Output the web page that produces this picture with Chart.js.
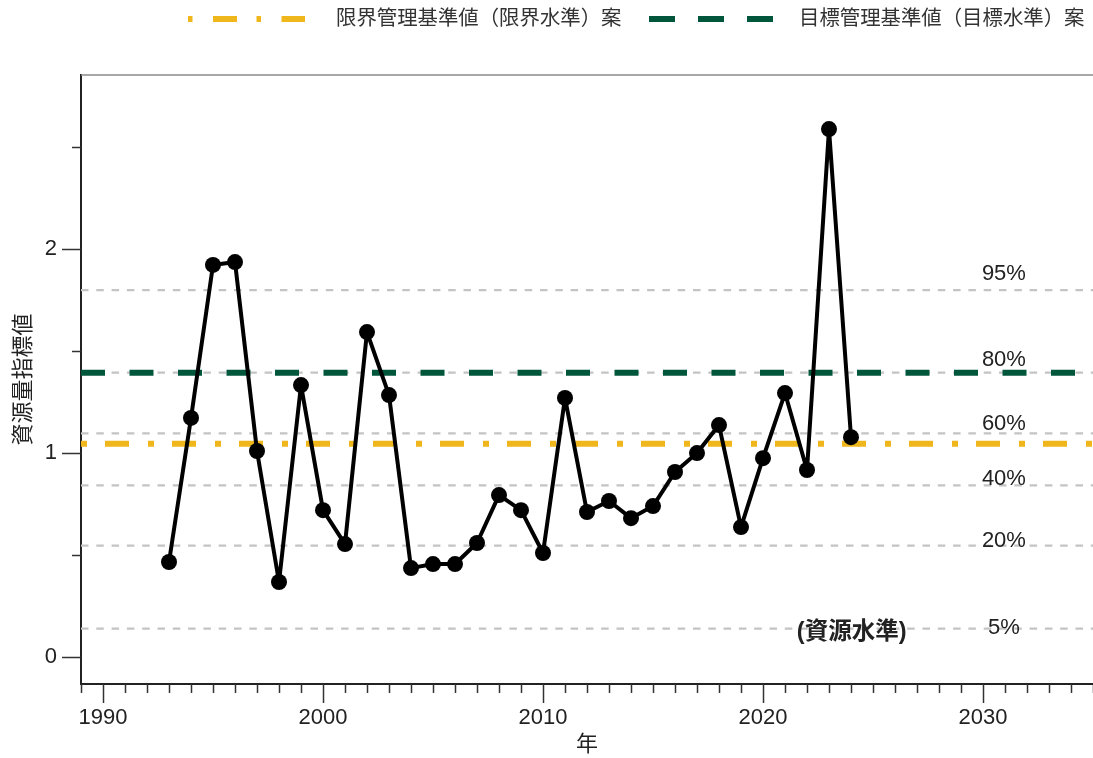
<!DOCTYPE html>
<html><head><meta charset="utf-8">
<script src="https://cdn.jsdelivr.net/npm/chart.js@4.4.1/dist/chart.umd.min.js"></script>
<style>html,body{margin:0;padding:0;background:#fff}canvas{display:block}</style>
</head><body>
<canvas id="c" width="1093" height="758"></canvas>
<script>
// ---- data ----
const years = [1993,1994,1995,1996,1997,1998,1999,2000,2001,2002,2003,2004,2005,2006,2007,2008,2009,2010,2011,2012,2013,2014,2015,2016,2017,2018,2019,2020,2021,2022,2023,2024];
const stockIndex = [0.466,1.172,1.922,1.936,1.010,0.368,1.333,0.720,0.554,1.593,1.284,0.436,0.456,0.456,0.559,0.794,0.720,0.510,1.270,0.711,0.765,0.681,0.740,0.907,1.000,1.137,0.637,0.975,1.294,0.917,2.588,1.078];
const limitReference = 1.046;
const targetReference = 1.394;
const percentileLevels = [1.799,1.394,1.096,0.842,0.546,0.139];
const percentileLabels = ['95%','80%','60%','40%','20%','5%'];
const percentileLabelValues = [1.877,1.456,1.142,0.875,0.571,0.142];
const xTickValues = [1990,2000,2010,2020,2030];
const yTickValues = [0,0.5,1,1.5,2,2.5];
const xRange = [1989,2035];
const yRange = [-0.132,2.853];
const legendLabels = ['限界管理基準値（限界水準）案','目標管理基準値（目標水準）案'];
const seriesLabel = '資源量指標値';
const levelNote = '(資源水準)';

const FONT = "'Liberation Sans', Arial, 'Noto Sans CJK JP', sans-serif";
const YELLOW = '#efb71c';
const GREEN = '#00563b';
const GRAY = '#c4c4c4';

function hLine(v){ return [{x:xRange[0],y:v},{x:xRange[1],y:v}]; }

const datasets = [];
datasets.push({label:seriesLabel, data: years.map((y,i)=>({x:y,y:stockIndex[i]})),
  borderColor:'#000', backgroundColor:'#000', borderWidth:4, pointRadius:8, pointHoverRadius:8,
  pointBorderWidth:0, pointBackgroundColor:'#000', tension:0, order:0, borderJoinStyle:'round'});
datasets.push({label:legendLabels[0], data:hLine(limitReference), borderColor:YELLOW, borderWidth:6,
  borderDash:[6,18,24,19], pointRadius:0, order:1, borderCapStyle:'butt'});
datasets.push({label:legendLabels[1], data:hLine(targetReference), borderColor:GREEN, borderWidth:6,
  borderDash:[24,24.5], pointRadius:0, order:1, borderCapStyle:'butt'});
percentileLevels.forEach((v,i)=>{
  datasets.push({label:percentileLabels[i], data:hLine(v), borderColor:GRAY, borderWidth:2.2,
    borderDash:[7.5,7.8], pointRadius:0, order:2});
});

const decor = {
  id:'decor',
  beforeDatasetsDraw(chart){
    const {ctx, chartArea:a} = chart;
    ctx.save();
    ctx.strokeStyle = '#8a8a8a'; ctx.lineWidth = 1.6;
    ctx.beginPath(); ctx.moveTo(a.left, a.top); ctx.lineTo(a.right, a.top); ctx.stroke();
    ctx.restore();
  },
  afterDatasetsDraw(chart){
    const {ctx, chartArea:a, scales:{x,y}} = chart;
    ctx.save();
    // tick marks
    ctx.strokeStyle = '#333'; ctx.lineWidth = 1.5;
    for (let yr = xRange[0]; yr <= xRange[1]; yr++){
      const px = Math.round(x.getPixelForValue(yr)) + 0.5;
      const len = (yr % 10 === 0) ? 19 : 9;
      ctx.beginPath(); ctx.moveTo(px, a.bottom); ctx.lineTo(px, a.bottom + len); ctx.stroke();
    }
    yTickValues.forEach(v=>{
      const py = Math.round(y.getPixelForValue(v)) + 0.5;
      const len = Number.isInteger(v) ? 19 : 9;
      ctx.beginPath(); ctx.moveTo(a.left, py); ctx.lineTo(a.left - len, py); ctx.stroke();
    });
    // percentile labels
    ctx.fillStyle = '#222'; ctx.font = '22px ' + FONT;
    ctx.textAlign = 'center'; ctx.textBaseline = 'middle';
    const lx = x.getPixelForValue(2030.95);
    percentileLabels.forEach((t,i)=>{
      ctx.fillText(t, lx, y.getPixelForValue(percentileLabelValues[i]));
    });
    ctx.font = 'bold 23.5px ' + FONT;
    ctx.fillText(levelNote, x.getPixelForValue(2024.03), y.getPixelForValue(0.118));
    ctx.restore();
  },
  afterDraw(chart){
    const {ctx} = chart;
    ctx.save();
    const ly = 19;
    ctx.lineWidth = 6; ctx.lineCap = 'butt';
    ctx.strokeStyle = YELLOW; ctx.setLineDash([4.5,20.5,24,19.5]);
    ctx.beginPath(); ctx.moveTo(188, ly); ctx.lineTo(305, ly); ctx.stroke();
    ctx.strokeStyle = GREEN; ctx.setLineDash([26,23]);
    ctx.beginPath(); ctx.moveTo(649, ly); ctx.lineTo(773, ly); ctx.stroke();
    ctx.setLineDash([]);
    ctx.fillStyle = '#333'; ctx.font = '20.4px ' + FONT;
    ctx.textAlign = 'left'; ctx.textBaseline = 'middle';
    ctx.fillText(legendLabels[0], 336, ly);
    ctx.fillText(legendLabels[1], 799, ly);
    ctx.restore();
  }
};

new Chart(document.getElementById('c'), {
  type:'line',
  data:{datasets},
  options:{
    responsive:false, animation:false,
    layout:{autoPadding:false, padding:{top:75,left:0,right:0,bottom:0}},
    plugins:{legend:{display:false}, tooltip:{enabled:false}},
    scales:{
      x:{type:'linear', min:xRange[0], max:xRange[1],
        afterBuildTicks:s=>{ s.ticks = xTickValues.map(v=>({value:v})); },
        afterFit:s=>{ s.height = 74; },
        grid:{display:false, drawTicks:false},
        border:{display:true, color:'#222', width:2},
        ticks:{color:'#222', font:{family:FONT, size:22}, padding:21, maxRotation:0, autoSkip:false,
          callback:v=>String(v)},
        title:{display:true, text:'年', color:'#222', font:{family:FONT, size:22}, padding:{top:0,bottom:0}}
      },
      y:{type:'linear', min:yRange[0], max:yRange[1],
        afterBuildTicks:s=>{ s.ticks = yTickValues.map(v=>({value:v})); },
        afterFit:s=>{ s.width = 81; },
        grid:{display:false, drawTicks:false},
        border:{display:true, color:'#222', width:2},
        ticks:{color:'#222', font:{family:FONT, size:22}, padding:24,
          callback:v=>Number.isInteger(v) ? String(v) : ''},
        title:{display:true, text:seriesLabel, color:'#222', font:{family:FONT, size:22}, padding:{top:11,bottom:0}}
      }
    }
  },
  plugins:[decor]
});
</script>
</body></html>
